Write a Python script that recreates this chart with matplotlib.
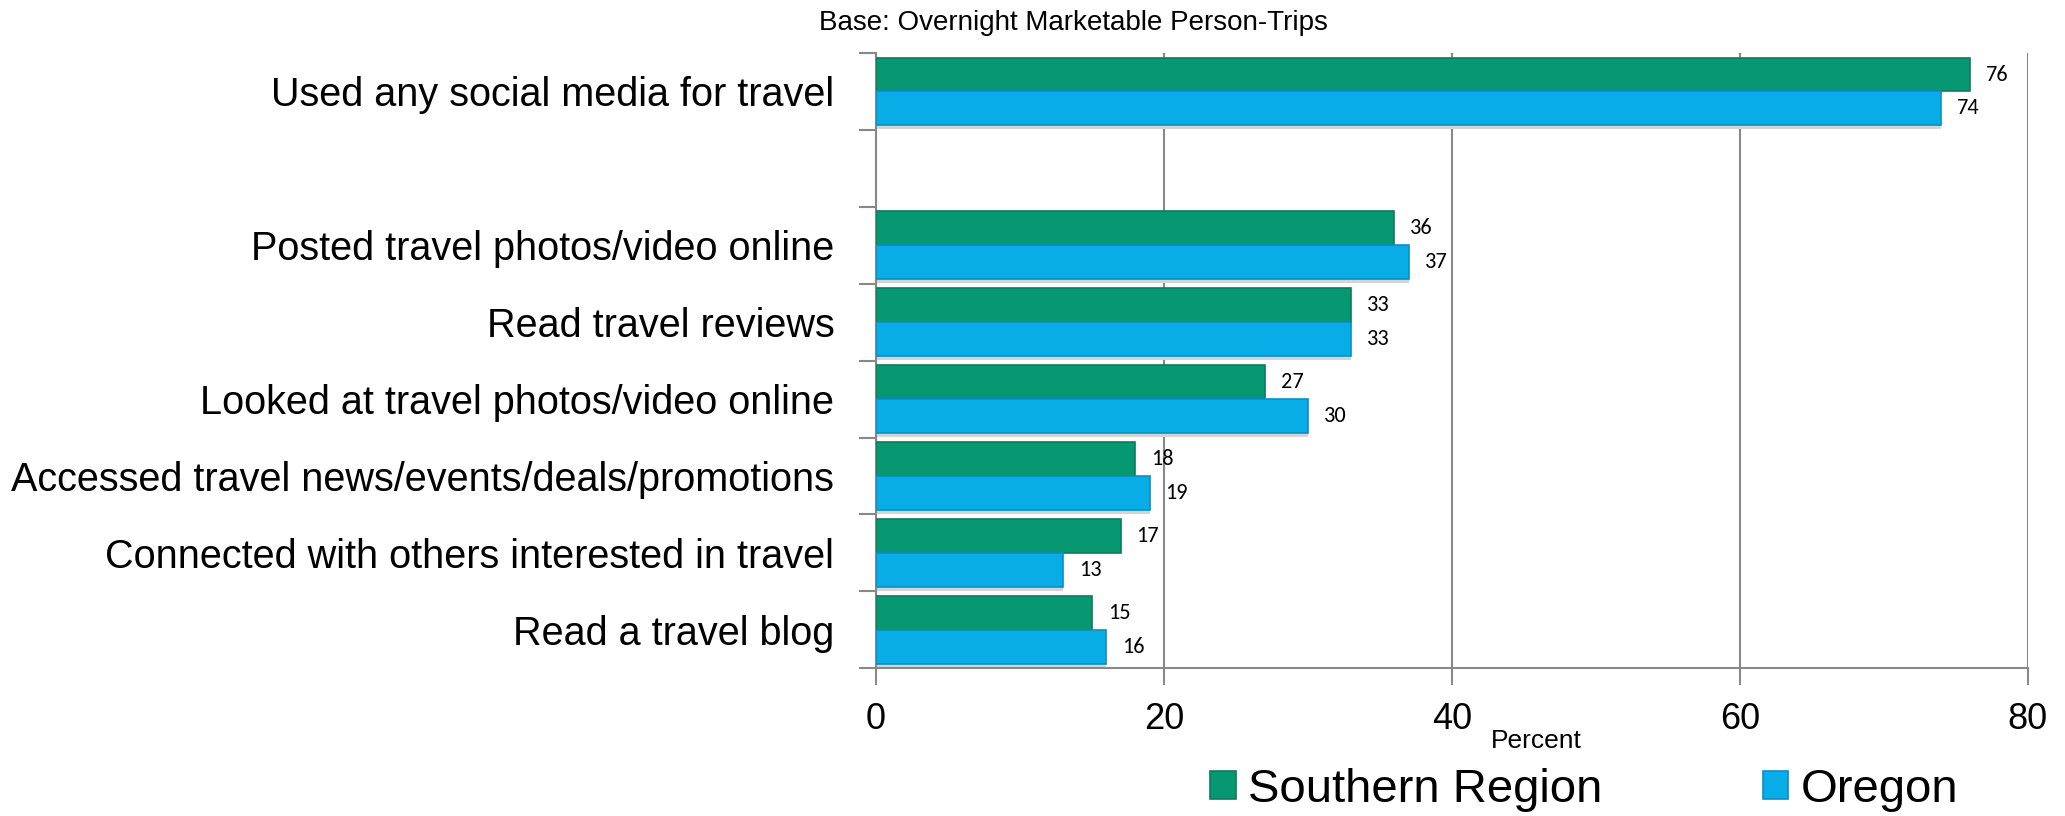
import matplotlib

matplotlib.use('Agg')

import matplotlib.pyplot as plt
import numpy as np

plt.rcParams['font.family'] = ['Liberation Sans', 'DejaVu Sans']

categories = [
    'Used any social media for travel',
    '',
    'Posted travel photos/video online',
    'Read travel reviews',
    'Looked at travel photos/video online',
    'Accessed travel news/events/deals/promotions',
    'Connected with others interested in travel',
    'Read a travel blog',
]
southern = [76, None, 36, 33, 27, 18, 17, 15]
oregon = [74, None, 37, 33, 30, 19, 13, 16]
series_names = ['Southern Region', 'Oregon']
xticks = [0, 20, 40, 60, 80]

green = '#079771'
blue = '#08ade8'
label_font = ['Carlito', 'Liberation Sans Narrow', 'Liberation Sans']

fig = plt.figure(figsize=(20.65, 8.16), dpi=100)
ax = fig.add_axes([0.4242, 0.181, 0.5578, 0.754])

pos = np.arange(len(categories))
h = 0.44
for i, (s, o) in enumerate(zip(southern, oregon)):
    if s is None:
        continue
    # soft shadow under each pair of bars
    ax.barh(i + h / 2 + 0.05, o, height=h, color='#d4d4d4', linewidth=0, zorder=2)
    ax.barh(i - h / 2, s, height=h, color=green, edgecolor='#0a7d5e', linewidth=1.2,
            label=series_names[0] if i == 0 else None, zorder=3)
    ax.barh(i + h / 2, o, height=h, color=blue, edgecolor='#0a8fc2', linewidth=1.2,
            label=series_names[1] if i == 0 else None, zorder=3)
    ax.text(s + 1.1, i - h / 2, str(s), va='center', ha='left', fontsize=16, family=label_font)
    ax.text(o + 1.1, i + h / 2, str(o), va='center', ha='left', fontsize=16, family=label_font)

ax.set_ylim(len(categories) - 0.5, -0.5)
ax.set_xlim(0, 80)

# category labels centred on each slot, tick marks at slot boundaries
ax.set_yticks(pos)
ax.set_yticklabels(categories, fontsize=28.5)
ax.tick_params(axis='y', length=0, pad=30)
ax.set_yticks(np.arange(-0.5, len(categories)), minor=True)
ax.tick_params(axis='y', which='minor', length=12, color='#888888', width=1.5)

ax.set_xticks(xticks)
ax.set_xticklabels([str(t) for t in xticks], fontsize=26)
ax.tick_params(axis='x', length=12, color='#888888', width=1.5, pad=12)

ax.grid(axis='x', color='#888888', linewidth=1.5, zorder=0)
for side in ['top', 'right']:
    ax.spines[side].set_visible(False)
for side in ['left', 'bottom']:
    ax.spines[side].set_color('#888888')
    ax.spines[side].set_linewidth(1.5)

fig.text(0.744, 0.092, 'Percent', ha='center', va='center', fontsize=19)
fig.text(0.52, 0.972, 'Base: Overnight Marketable Person-Trips', ha='center', va='center', fontsize=20)

ax.legend(loc='center', bbox_to_anchor=(0.767, 0.032), bbox_transform=fig.transFigure,
          ncol=2, frameon=False, fontsize=34, handlelength=0.55, handleheight=0.55,
          handletextpad=0.25, columnspacing=3.4, borderpad=0)

fig.savefig('out.png')
